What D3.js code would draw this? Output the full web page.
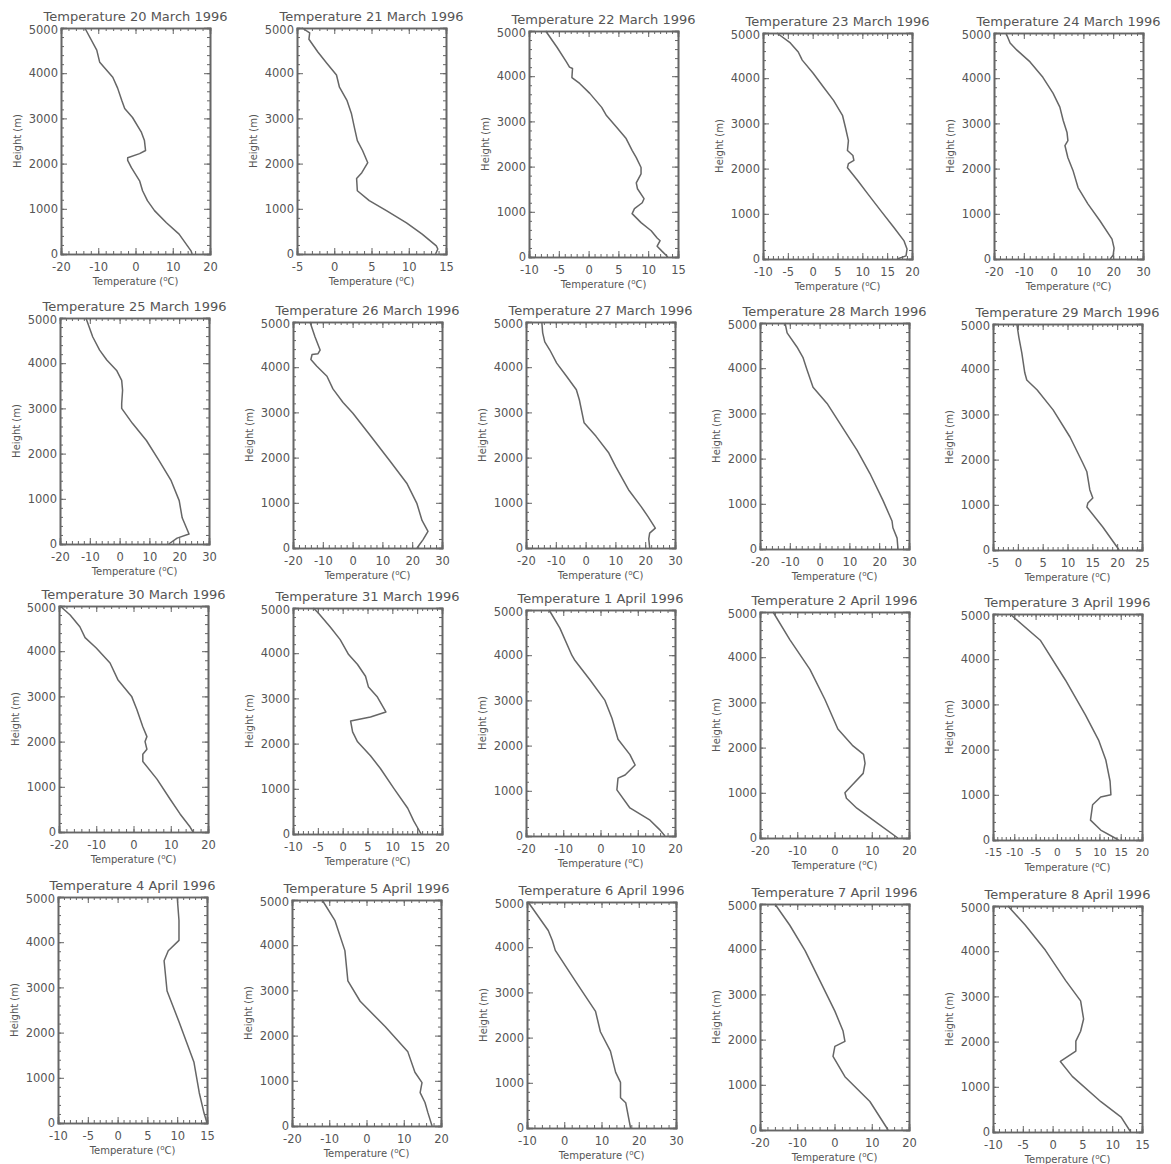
<!DOCTYPE html>
<html>
<head>
<meta charset="utf-8">
<script src="https://cdn.jsdelivr.net/npm/d3@7"></script>
<style>
  body { margin: 0; background: #fff; }
  svg text { font-family: "DejaVu Sans", sans-serif; fill: #555; }
</style>
</head>
<body>
<div id="chart"></div>
<script>
// 1: DATA - one profile per day, [height (m), temperature (degC)]
const dates = ["20 March 1996", "21 March 1996", "22 March 1996", "23 March 1996", "24 March 1996",
    "25 March 1996", "26 March 1996", "27 March 1996", "28 March 1996", "29 March 1996",
    "30 March 1996", "31 March 1996", "1 April 1996", "2 April 1996", "3 April 1996",
    "4 April 1996", "5 April 1996", "6 April 1996", "7 April 1996", "8 April 1996"];

// x ranges and major tick step of each panel
const xDomains = [[-20, 20], [-5, 15], [-10, 15], [-10, 20], [-20, 30],
    [-20, 30], [-20, 30], [-20, 30], [-20, 30], [-5, 25],
    [-20, 20], [-10, 20], [-20, 20], [-20, 20], [-15, 20],
    [-10, 15], [-20, 20], [-10, 30], [-20, 20], [-10, 15]];
const xSteps = [10, 5, 5, 5, 10, 10, 10, 10, 10, 5, 10, 5, 10, 10, 5, 5, 10, 10, 10, 5];
const heightTicks = [0, 1000, 2000, 3000, 4000, 5000];

const mar20 = [[0, 15.2], [70, 14.9], [440, 11.7], [690, 8.3], [960, 5.1], [1180, 3.2], [1400, 1.9], [1620, 1.1],
    [1910, -1.1], [2070, -2.1], [2130, -2.1], [2220, 1.1], [2290, 2.7], [2510, 2.4], [2690, 1.6], [3020, -0.8],
    [3220, -2.9], [3400, -3.7], [3670, -4.8], [3910, -6.1], [4240, -9.6], [4510, -10.4], [5000, -13.6]];
const mar21 = [[0, 13.6], [110, 13.9], [180, 13.7], [440, 11.8], [690, 9.7], [960, 7.0], [1180, 4.7], [1400, 3.1],
    [1670, 3.0], [1800, 3.7], [2020, 4.5], [2290, 3.8], [2510, 3.1], [2800, 2.7], [3110, 2.3], [3400, 1.7],
    [3690, 0.7], [3960, 0.3], [4220, -1.0], [4470, -2.2], [4750, -3.4], [4890, -3.3], [5000, -4.3]];
const mar22 = [[0, 13.3], [130, 12.3], [240, 11.5], [360, 12.0], [420, 11.5], [580, 10.5], [760, 8.8], [960, 7.3],
    [1070, 7.7], [1200, 9.0], [1290, 9.3], [1510, 8.2], [1640, 8.0], [1840, 8.8], [1980, 8.8], [2200, 8.0],
    [2360, 7.3], [2620, 6.3], [2870, 4.7], [3130, 3.0], [3310, 2.2], [3620, 0.2], [3840, -1.5], [3970, -2.8],
    [4170, -2.7], [4200, -3.2], [4310, -3.7], [4640, -5.3], [5000, -7.2]];
const mar23 = [[0, 17.0], [70, 18.8], [220, 19.0], [400, 18.4], [690, 16.4], [1070, 13.7], [1440, 11.1], [1730, 9.1],
    [2020, 7.0], [2110, 7.2], [2180, 8.3], [2290, 8.1], [2400, 7.0], [2620, 7.2], [2910, 6.6], [3180, 6.0],
    [3510, 4.2], [3800, 2.2], [4110, 0.1], [4400, -2.1], [4580, -2.9], [4780, -4.5], [5000, -7.2]];
const mar24 = [[0, 19.0], [90, 20.0], [240, 20.3], [440, 19.6], [840, 15.6], [1220, 11.5], [1580, 8.2], [1960, 6.5],
    [2240, 4.8], [2510, 3.8], [2620, 4.8], [2800, 4.5], [3070, 3.2], [3360, 2.1], [3670, -0.2], [4020, -3.6],
    [4360, -7.9], [4620, -12.3], [4780, -14.6], [5000, -16.0]];
const mar25 = [[0, 16.5], [130, 19.3], [220, 23.3], [580, 21.0], [960, 20.0], [1400, 17.3], [1840, 13.3], [2290, 9.0],
    [2670, 4.3], [3000, 0.7], [3110, 0.7], [3400, 1.0], [3620, 0.7], [3840, -1.0], [4070, -4.3], [4290, -6.7],
    [4580, -9.0], [5000, -11.3]];
const mar26 = [[0, 21.6], [180, 23.6], [370, 25.3], [610, 23.3], [980, 21.6], [1420, 18.3], [1920, 12.6], [2500, 5.8],
    [2980, 0.1], [3220, -3.2], [3520, -6.6], [3800, -8.6], [4020, -12.0], [4170, -14.0], [4280, -13.6],
    [4300, -11.6], [4380, -10.9], [4670, -12.6], [5000, -14.3]];
const mar27 = [[0, 21.5], [200, 21.2], [330, 21.5], [440, 23.4], [690, 21.0], [910, 18.7], [1290, 14.4], [1800, 10.1],
    [2100, 7.8], [2470, 3.5], [2770, -0.5], [3280, -2.1], [3500, -3.1], [3800, -6.4], [4090, -9.7], [4380, -12.0],
    [4560, -13.7], [4760, -14.4], [5000, -14.7]];
const mar28 = [[0, 26.3], [240, 26.0], [470, 24.6], [620, 24.3], [1070, 21.3], [1670, 16.9], [2180, 12.6], [2780, 6.8],
    [3220, 2.5], [3580, -2.2], [3960, -4.2], [4240, -5.6], [4470, -7.6], [4780, -10.9], [5000, -11.6]];
const mar29 = [[0, 20.4], [510, 17.1], [950, 13.9], [1040, 14.1], [1150, 15.1], [1330, 14.5], [1730, 13.9], [1920, 13.1],
    [2500, 10.5], [3100, 7.1], [3540, 3.9], [3760, 1.8], [3920, 1.4], [4360, 0.8], [4710, 0.2], [5000, -0.2]];
const mar30 = [[0, 16.0], [110, 15.2], [400, 12.5], [730, 9.8], [1170, 6.3], [1560, 2.5], [1720, 2.5], [1830, 3.6],
    [2000, 3.1], [2110, 3.6], [2330, 2.5], [2710, 0.9], [3000, -0.5], [3370, -4.2], [3740, -6.3], [4070, -10.0],
    [4300, -13.0], [4540, -14.4], [4800, -17.0], [5000, -19.7]];
const mar31 = [[0, 15.8], [290, 14.3], [570, 13.1], [1010, 10.3], [1450, 7.6], [1730, 5.6], [2040, 3.0], [2260, 2.0],
    [2500, 1.6], [2590, 5.6], [2700, 8.7], [3030, 7.0], [3250, 5.2], [3490, 4.6], [3750, 3.0], [3970, 1.2],
    [4300, -0.5], [4580, -2.5], [4890, -4.9], [5000, -5.9]];
const apr01 = [[0, 17.3], [130, 16.0], [350, 13.3], [620, 7.9], [1020, 4.4], [1280, 4.7], [1350, 6.6], [1570, 9.3],
    [1800, 7.9], [2140, 4.7], [2600, 3.1], [3000, 1.2], [3450, -2.8], [3900, -7.0], [4000, -7.7], [4600, -10.9],
    [5000, -13.8]];
const apr02 = [[0, 17.0], [330, 11.5], [660, 6.0], [880, 3.2], [1000, 2.8], [1150, 4.5], [1430, 7.7], [1650, 8.2],
    [1850, 7.8], [2050, 4.8], [2410, 0.9], [3070, -2.6], [3730, -6.6], [4390, -12.0], [5000, -16.5]];
const apr03 = [[0, 14.5], [220, 10.3], [440, 7.9], [780, 8.4], [950, 10.3], [1000, 12.7], [1300, 12.5], [1770, 11.5],
    [2210, 9.8], [2770, 6.7], [3540, 2.0], [4420, -3.9], [5000, -11.0]];
const apr04 = [[0, 15.0], [220, 14.5], [670, 13.7], [1350, 12.8], [2240, 10.3], [2920, 8.3], [3590, 7.8], [3810, 8.5],
    [4040, 10.3], [4480, 10.3], [5000, 10.0]];
const apr05 = [[0, 17.6], [290, 16.5], [520, 15.7], [740, 14.4], [960, 14.9], [1190, 13.0], [1640, 11.1], [2200, 5.0],
    [2760, -1.7], [3210, -5.0], [3880, -5.8], [4550, -8.5], [5000, -11.9]];
const apr06 = [[0, 17.8], [560, 16.5], [670, 15.1], [1010, 15.1], [1230, 13.8], [1700, 12.4], [2130, 9.7], [2580, 8.4],
    [3250, 3.0], [3930, -2.4], [4150, -3.2], [4370, -4.3], [5000, -9.7]];
const apr07 = [[0, 14.4], [630, 9.5], [1180, 2.8], [1630, -0.4], [1850, 0.1], [1960, 2.8], [2190, 2.3], [2630, 0.1],
    [3300, -3.9], [3970, -7.9], [4530, -12.0], [5000, -16.0]];
const apr08 = [[0, 13.1], [330, 11.5], [670, 8.1], [1230, 3.3], [1560, 1.3], [1790, 3.9], [2010, 3.9], [2230, 4.7],
    [2500, 5.2], [2900, 4.7], [3350, 2.2], [4020, -1.2], [4580, -4.6], [5000, -7.5]];

const profiles = [mar20, mar21, mar22, mar23, mar24, mar25, mar26, mar27, mar28, mar29,
    mar30, mar31, apr01, apr02, apr03, apr04, apr05, apr06, apr07, apr08];

// 2: LAYOUT - top-left corner of each plot box (scan is slightly skewed)
const origins = [[61, 28], [297, 28], [529, 31], [763, 33], [994, 33],
    [60, 318], [293, 322], [526, 322], [760, 323], [993, 324],
    [59, 606], [293, 608], [526, 610], [760, 612], [993, 614],
    [58, 897], [292, 900], [527, 902], [760, 904], [993, 906]];
const width = 149;
const height = 226;
const ink = "#666";

const svg = d3.select("#chart")
    .append("svg")
    .attr("width", 1171)
    .attr("height", 1164);

dates.forEach((date, i) => {
    const [ox, oy] = origins[i];
    const g = svg.append("g").attr("transform", `translate(${ox},${oy})`);

    // 3: SCALES
    const x = d3.scaleLinear().domain(xDomains[i]).range([0, width]);
    const y = d3.scaleLinear().domain([0, 5000]).range([height, 0]);

    const step = xSteps[i];
    const major = d3.range(xDomains[i][0], xDomains[i][1] + 0.01, step);
    const minor = d3.range(xDomains[i][0], xDomains[i][1] + 0.01, step / 5);
    const yMinor = d3.range(0, 5001, 200);

    // 4: AXES - inward ticks on all four sides, IDL style
    const fmt = d => String(d);   // plain hyphen minus, no thousands separator
    // crowded tick labels (e.g. -15 -10 -5) get a slightly smaller font
    const tickFont = (xDomains[i][1] - xDomains[i][0]) / step > 6 ? "10.5px" : "11.5px";

    g.append("g")
        .attr("transform", `translate(0,${height})`)
        .call(d3.axisBottom(x).tickValues(minor).tickSize(-3).tickFormat(""));
    g.append("g")
        .call(d3.axisTop(x).tickValues(minor).tickSize(-3).tickFormat(""));
    g.append("g")
        .call(d3.axisLeft(y).tickValues(yMinor).tickSize(-3).tickFormat(""));
    g.append("g")
        .attr("transform", `translate(${width},0)`)
        .call(d3.axisRight(y).tickValues(yMinor).tickSize(-3).tickFormat(""));

    const xAxis = g.append("g")
        .attr("transform", `translate(0,${height})`)
        .call(d3.axisBottom(x).tickValues(major).tickSize(-6).tickPadding(9).tickFormat(fmt));
    g.append("g")
        .call(d3.axisTop(x).tickValues(major).tickSize(-6).tickFormat(""));
    const yAxis = g.append("g")
        .call(d3.axisLeft(y).tickValues(heightTicks).tickSize(-6).tickPadding(3).tickFormat(fmt));
    g.append("g")
        .attr("transform", `translate(${width},0)`)
        .call(d3.axisRight(y).tickValues(heightTicks).tickSize(-6).tickFormat(""));

    g.selectAll(".domain").attr("stroke", ink).attr("stroke-width", 1.6);
    g.selectAll(".tick line").attr("stroke", ink).attr("stroke-width", 1);
    g.selectAll(".tick text")
        .style("font-family", "DejaVu Sans, sans-serif")
        .style("font-size", "11.5px")
        .attr("fill", "#555");
    xAxis.selectAll(".tick text").style("font-size", tickFont);
    // nudge the top label down a touch so it clears the title
    yAxis.selectAll(".tick text").filter(d => d === 5000).attr("dy", "0.5em");

    // 5: PROFILE LINE
    g.append("path")
        .datum(profiles[i])
        .attr("fill", "none")
        .attr("stroke", ink)
        .attr("stroke-width", 1.5)
        .attr("stroke-linejoin", "round")
        .attr("d", d3.line()
            .x(d => x(d[1]))
            .y(d => y(d[0])));

    // 6: LABELS
    g.append("text")
        .attr("text-anchor", "middle")
        .attr("x", width / 2)
        .attr("y", -7)
        .style("font-size", "13px")
        .text("Temperature " + date);

    const xl = g.append("text")
        .attr("text-anchor", "middle")
        .attr("x", width / 2)
        .attr("y", height + 31)
        .style("font-size", "10px");
    xl.append("tspan").text("Temperature (");
    xl.append("tspan").attr("dy", -4).style("font-size", "7px").text("o");
    xl.append("tspan").attr("dy", 4).text("C)");

    g.append("text")
        .attr("text-anchor", "middle")
        .attr("transform", "rotate(-90)")
        .attr("x", -height / 2)
        .attr("y", -40)
        .style("font-size", "10px")
        .text("Height (m)");
});
</script>
</body>
</html>
